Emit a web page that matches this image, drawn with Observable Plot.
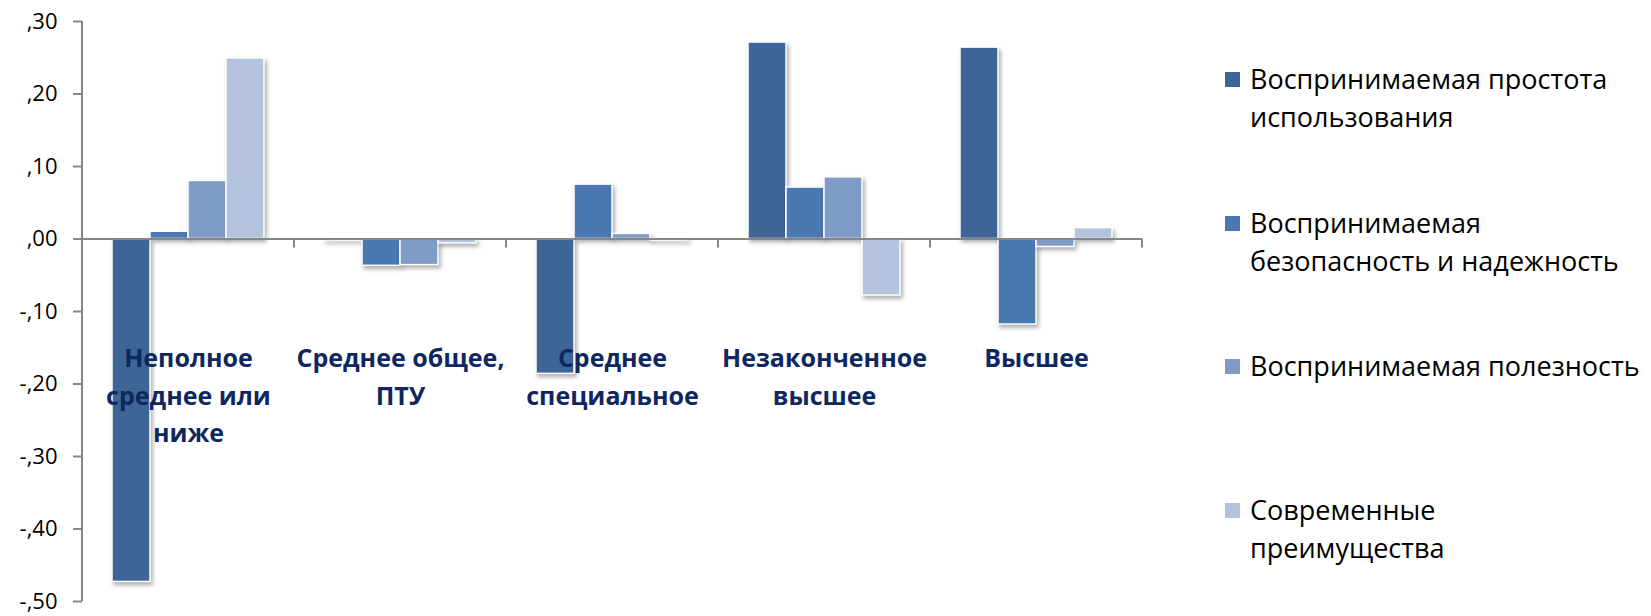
<!DOCTYPE html>
<html>
<head>
<meta charset="utf-8">
<script src="https://cdn.jsdelivr.net/npm/d3@7"></script>
<script src="https://cdn.jsdelivr.net/npm/@observablehq/plot@0.6"></script>
<style>
  body { margin: 0; background: #fff; }
  #wrap { position: relative; width: 1651px; height: 616px; overflow: hidden; }
  #chart { position: absolute; left: 0; top: 0; }
  #legend { position: absolute; left: 1225px; top: 0; font-family: "Open Sans", sans-serif; font-size: 27px; color: #000; }
  .item { position: absolute; left: 0; }
  .sw { position: absolute; left: 0; width: 15px; height: 15px; }
  .lab { position: absolute; left: 25px; white-space: pre; line-height: 38px; }
  g[aria-label="bar"] rect { filter: drop-shadow(2px 3px 2px rgba(0,0,0,0.32)); }
</style>
</head>
<body>
<div id="wrap"><div id="chart"></div><div id="legend"></div></div>
<script>
// ---- data ----
const categories = ["Неполное среднее или ниже", "Среднее общее, ПТУ", "Среднее специальное", "Незаконченное высшее", "Высшее"];
const categoryLabels = ["Неполное\nсреднее или\nниже", "Среднее общее,\nПТУ", "Среднее\nспециальное", "Незаконченное\nвысшее", "Высшее"];
const series = ["Воспринимаемая простота использования", "Воспринимаемая безопасность и надежность", "Воспринимаемая полезность", "Современные преимущества"];
const legendLabels = ["Воспринимаемая простота\nиспользования", "Воспринимаемая\nбезопасность и надежность", "Воспринимаемая полезность", "Современные\nпреимущества"];
const simplicity = [-0.473, -0.002, -0.186, 0.271, 0.264];
const security   = [0.010, -0.037, 0.075, 0.071, -0.118];
const usefulness = [0.080, -0.036, 0.007, 0.085, -0.011];
const modern     = [0.249, -0.006, -0.002, -0.078, 0.015];
const yTicks = [0.3, 0.2, 0.1, 0, -0.1, -0.2, -0.3, -0.4, -0.5];
const colors = ["#3D6596", "#4A78B0", "#7F9CC8", "#B3C3DE"];

// ---- table ----
const seriesValues = [simplicity, security, usefulness, modern];
const rows = [];
categories.forEach((c, i) => series.forEach((s, j) => rows.push({category: c, series: s, value: seriesValues[j][i]})));
const fmt = d => d3.format(".2f")(d).replace("\u2212", "-").replace("0.", ",");

const chart = Plot.plot({
  width: 1160, height: 616,
  marginLeft: 81, marginRight: 17, marginTop: 21, marginBottom: 15,
  style: {fontFamily: "'Open Sans', sans-serif", background: "transparent", overflow: "visible", color: "#000"},
  fx: {domain: categories, padding: 0, axis: null, label: null},
  x: {domain: series, paddingInner: 0, paddingOuter: 0.78, axis: null, label: null},
  y: {domain: [-0.5, 0.3], axis: null},
  color: {domain: series, range: colors},
  marks: [
    Plot.axisY({ticks: yTicks, tickFormat: fmt, tickSize: 9, tickPadding: 16, label: null, stroke: "#868686", strokeWidth: 2, fill: "#000", fontSize: 22}),
    Plot.barY(rows, {fx: "category", x: "series", y: "value", fill: "series", stroke: "white", strokeWidth: 1.5}),
    Plot.ruleY([0], {stroke: "#868686", strokeWidth: 2}),
    Plot.text(categories, {fx: d => d, text: (d, i) => categoryLabels[i], frameAnchor: "top", dy: 319, lineHeight: 1.5, fontSize: 25, fontWeight: "bold", fill: "#0E275F"})
  ]
});
document.getElementById("chart").appendChild(chart);

// axis line and boundary ticks, positioned from the library's scales
const fxS = chart.scale("fx"), yS = chart.scale("y");
const y0 = yS.apply(0);
const svg = d3.select(chart.tagName.toLowerCase() === "svg" ? chart : chart.querySelector("svg"));
const gx = svg.append("g");
const x0 = fxS.apply(categories[0]);
gx.append("line").attr("x1", x0).attr("x2", x0)
  .attr("y1", yS.apply(d3.max(yTicks))).attr("y2", yS.apply(d3.min(yTicks)))
  .attr("stroke", "#868686").attr("stroke-width", 2);
gx.selectAll("line.b").data(categories).join("line").attr("class", "b")
  .attr("x1", d => fxS.apply(d) + fxS.bandwidth).attr("x2", d => fxS.apply(d) + fxS.bandwidth)
  .attr("y1", y0).attr("y2", y0 + 9)
  .attr("stroke", "#868686").attr("stroke-width", 2);

// legend
const lg = d3.select("#legend");
const entryTops = [0, 143.5, 287, 430.5];
series.forEach((s, i) => {
  const it = lg.append("div").attr("class", "item").style("top", (60 + entryTops[i]) + "px");
  it.append("div").attr("class", "sw").style("top", "12px").style("background", colors[i]);
  it.append("div").attr("class", "lab").style("top", "0px").text(legendLabels[i]);
});
</script>
</body>
</html>
